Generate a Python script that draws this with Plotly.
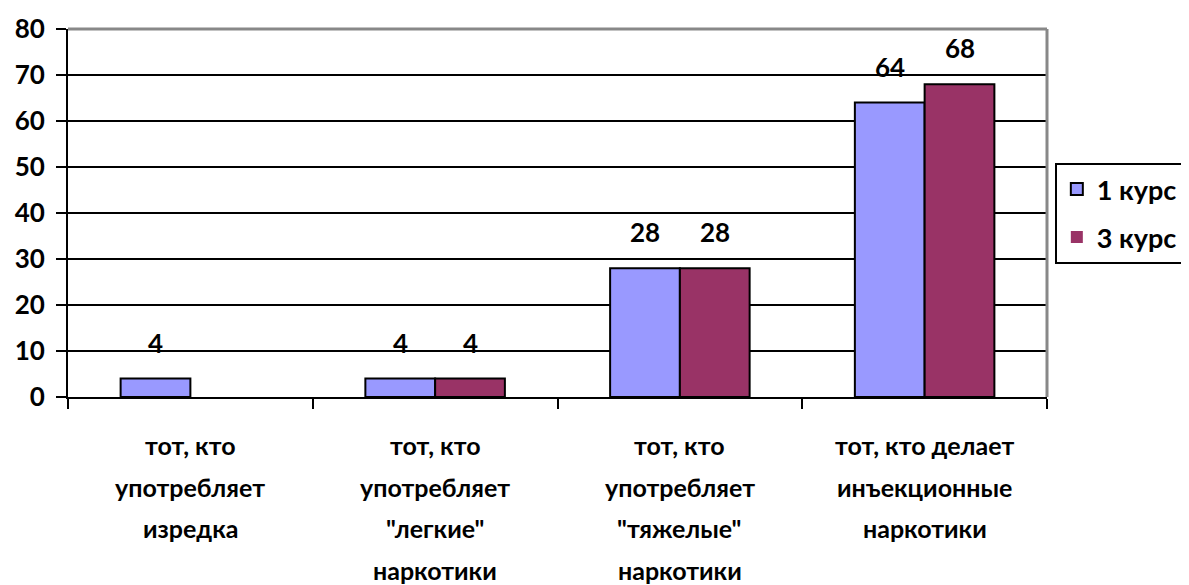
import plotly.graph_objects as go

categories = ["cat1", "cat2", "cat3", "cat4"]
category_lines = [
    ["тот, кто", "употребляет", "изредка"],
    ["тот, кто", "употребляет", "\"легкие\"", "наркотики"],
    ["тот, кто", "употребляет", "\"тяжелые\"", "наркотики"],
    ["тот, кто делает", "инъекционные", "наркотики"],
]
series_names = ["1 курс", "3 курс"]
course1 = [4, 4, 28, 64]
course3 = [0, 4, 28, 68]
colors = ["#9999FF", "#993366"]
y_ticks = [0, 10, 20, 30, 40, 50, 60, 70, 80]

FONT = "Lato"
fs = 25

fig = go.Figure()
for i, (name, vals) in enumerate(zip(series_names, [course1, course3])):
    fig.add_trace(go.Bar(
        x=categories, y=vals, name=name,
        marker=dict(color=colors[i],
                    line=dict(color="black", width=[2 if v else 0 for v in vals])),
        legendgroup=name,
    ))

annotations = []
# data labels
for i, vals in enumerate([course1, course3]):
    shift = -35 if i == 0 else 35
    for c, v in zip(categories, vals):
        if v:
            annotations.append(dict(
                x=c, y=v, xref="x", yref="y", text=f"<b>{v}</b>",
                showarrow=False, xshift=shift, yshift=36, yanchor="middle",
                font=dict(family=FONT, size=26, color="black")))
# category labels
for c, lines in zip(categories, category_lines):
    for j, line in enumerate(lines):
        annotations.append(dict(
            x=c, y=0, xref="x", yref="paper", text=f"<b>{line}</b>",
            showarrow=False, yanchor="middle", yshift=-(48 + 41.5 * j),
            font=dict(family=FONT, size=fs, color="black")))

fig.update_layout(
    width=1181, height=577,
    margin=dict(l=60, r=142, t=21, b=188, autoexpand=False),
    paper_bgcolor="white", plot_bgcolor="white",
    barmode="group", bargap=0.43, bargroupgap=0,
    font=dict(family=FONT, size=fs, color="black"),
    showlegend=True,
    legend=dict(x=1.008, y=0.636, xanchor="left", yanchor="top",
                bordercolor="black", borderwidth=2, tracegroupgap=10,
                font=dict(family=FONT, size=27, color="black", weight="bold")),
    annotations=annotations,
    shapes=[
        dict(type="line", xref="paper", yref="paper", x0=0, x1=1, y0=1, y1=1,
             line=dict(color="#888888", width=3), layer="above"),
        dict(type="line", xref="paper", yref="paper", x0=1, x1=1, y0=0, y1=1,
             line=dict(color="#888888", width=3), layer="above"),
    ],
)
fig.update_xaxes(
    type="category", range=[-0.5, 3.5], showticklabels=False, automargin=False,
    ticks="outside", tickson="boundaries", ticklen=10, tickwidth=2, tickcolor="black",
    showline=True, linecolor="black", linewidth=2, showgrid=False,
)
fig.update_yaxes(
    range=[0, 80], tickvals=y_ticks, ticks="outside", ticklen=10, tickwidth=2,
    tickcolor="black", showline=True, linecolor="black", linewidth=2,
    showgrid=True, gridcolor="black", gridwidth=2, zeroline=False, automargin=False,
    tickfont=dict(family=FONT, size=26, color="black", weight="bold"),
    ticklabelstandoff=6,
)
fig.write_html("out.html")
